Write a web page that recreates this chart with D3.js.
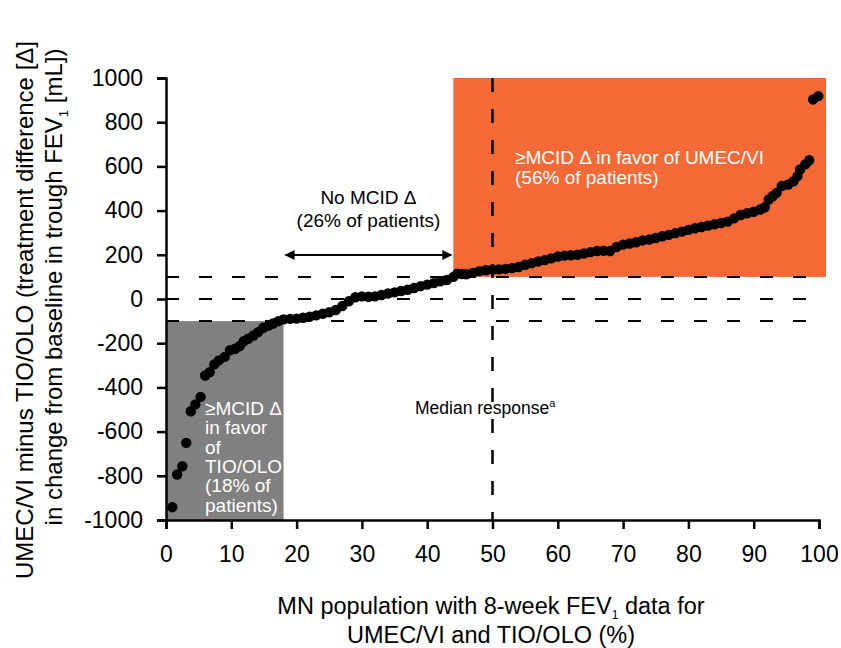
<!DOCTYPE html>
<html>
<head>
<meta charset="utf-8">
<script src="https://cdn.jsdelivr.net/npm/d3@7"></script>
<style>
  body { margin: 0; background: #fff; }
  svg text { font-family: "Liberation Sans", Arial, sans-serif; }
</style>
</head>
<body>
<svg id="chart" width="841" height="648"></svg>
<script>
// percentile of MN population (x) and treatment difference in mL (y)
const pct = [0.97, 1.7, 2.5, 3.1, 3.8, 4.5, 5.3, 6.0, 6.7, 7.4, 8.1, 9.0, 9.8, 10.6, 11.3, 11.9,
  12.6, 13.4, 14.1, 14.9, 15.7, 16.4, 17.2, 18, 19, 20, 21, 22, 23, 24, 25, 26, 27, 28, 29, 30,
  31, 32, 33, 34, 35, 36, 37, 38, 39, 40, 41, 42, 43, 44, 44.6, 45.3, 46, 47, 48, 49, 50, 51,
  52, 53, 54, 55, 56, 57, 58, 59, 60, 61, 62, 63, 64, 65, 66, 67, 68, 69, 70, 71, 72, 73, 74,
  75, 76, 77, 78, 79, 80, 81, 82, 83, 84, 85, 86, 87, 88, 89, 90, 91, 91.7, 92.3, 92.9, 93.5,
  94.3, 95.3, 96.1, 96.7, 97.1, 97.9, 98.5, 99.1, 99.9];
const diff = [-942, -794, -757, -651, -508, -477, -443, -346, -331, -296, -278, -262, -232, -225,
  -213, -191, -180, -165, -150, -130, -120, -111, -100, -92, -90, -89, -85, -80, -74, -67, -60,
  -50, -32, -10, 8, 12, 10, 12, 18, 25, 30, 36, 42, 50, 58, 65, 72, 80, 86, 100, 115, 113, 112,
  118, 126, 130, 133, 134, 136, 140, 145, 155, 162, 170, 176, 184, 192, 196, 198, 200, 206, 212,
  217, 218, 217, 235, 246, 251, 257, 265, 269, 276, 284, 290, 298, 305, 313, 320, 326, 332, 338,
  344, 350, 365, 380, 388, 395, 405, 415, 450, 465, 480, 511, 518, 533, 556, 586, 609, 628, 903, 918];

const xTicks = [0, 10, 20, 30, 40, 50, 60, 70, 80, 90, 100];
const yTicks = [-1000, -800, -600, -400, -200, 0, 200, 400, 600, 800, 1000];
const mcid = [100, 0, -100];   // dashed reference lines
const median = 50;
const favorTio = [0, 18];      // % range, diff <= -100
const noMcid = [18, 44];
const favorUmec = [44, 100];   // % range, diff >= 100

const svg = d3.select('#chart');
const x = d3.scaleLinear().domain([0, 100]).range([166, 819]);
const y = d3.scaleLinear().domain([-1000, 1000]).range([520, 78]);

// shaded zones
svg.append('rect')
  .attr('x', x(favorTio[0])).attr('y', y(-100))
  .attr('width', x(favorTio[1]) - x(favorTio[0])).attr('height', y(-1000) - y(-100))
  .attr('fill', '#808080');
svg.append('rect')
  .attr('x', x(favorUmec[0])).attr('y', y(1000))
  .attr('width', x(favorUmec[1]) - x(favorUmec[0]) + 7).attr('height', y(100) - y(1000))
  .attr('fill', '#f36a36');

// dashed lines
svg.selectAll('.hdash').data(mcid).enter().append('line')
  .attr('class', 'hdash')
  .attr('x1', x(0)).attr('x2', x(100) + 7)
  .attr('y1', d => y(d)).attr('y2', d => y(d))
  .attr('stroke', '#000').attr('stroke-width', 2)
  .attr('stroke-dasharray', '13,20');
svg.append('line')
  .attr('x1', x(median)).attr('x2', x(median))
  .attr('y1', y(1000)).attr('y2', y(-1000))
  .attr('stroke', '#000').attr('stroke-width', 2.5)
  .attr('stroke-dasharray', '14,17');

// axes
const xAxis = svg.append('g').attr('transform', 'translate(0,' + y(-1000) + ')')
  .call(d3.axisBottom(x).tickValues(xTicks).tickSize(9).tickPadding(17).tickFormat(d => String(d)));
const yAxis = svg.append('g').attr('transform', 'translate(' + x(0) + ',0)')
  .call(d3.axisLeft(y).tickValues(yTicks).tickSize(9).tickPadding(14).tickFormat(d => String(d)));
[xAxis, yAxis].forEach(g => {
  g.select('.domain').attr('stroke-width', 2.5);
  g.selectAll('.tick line').attr('stroke-width', 2.5);
  g.selectAll('.tick text').attr('font-size', 23).attr('fill', '#000')
    .attr('font-family', '"Liberation Sans", Arial, sans-serif');
});

// points
svg.selectAll('.pt').data(pct).enter().append('circle')
  .attr('class', 'pt')
  .attr('cx', d => x(d))
  .attr('cy', (d, i) => y(diff[i]))
  .attr('r', 5.2)
  .attr('fill', '#000');

// arrow for the no-MCID zone
svg.append('defs').append('marker')
  .attr('id', 'ah').attr('viewBox', '0 0 10 10').attr('refX', 9).attr('refY', 5)
  .attr('markerWidth', 16).attr('markerHeight', 10).attr('orient', 'auto-start-reverse')
  .attr('markerUnits', 'userSpaceOnUse')
  .append('path').attr('d', 'M0,0L10,5L0,10z').attr('fill', '#000');
svg.append('line')
  .attr('x1', x(noMcid[0]) + 2).attr('x2', x(noMcid[1]) - 2)
  .attr('y1', 255).attr('y2', 255)
  .attr('stroke', '#000').attr('stroke-width', 2)
  .attr('marker-start', 'url(#ah)').attr('marker-end', 'url(#ah)');

const label = (tx, ty, lines, color, anchor, size, lh) => {
  const t = svg.append('text').attr('x', tx).attr('y', ty)
    .attr('fill', color).attr('font-size', size).attr('text-anchor', anchor);
  lines.forEach((l, i) => t.append('tspan').attr('x', tx).attr('dy', i ? lh : 0).text(l));
  return t;
};
label((x(noMcid[0]) + x(noMcid[1])) / 2, 204, ['No MCID \u0394', '(26% of patients)'], '#000', 'middle', 19, 23);
label(515, 164, ['\u2265MCID \u0394 in favor of UMEC/VI', '(56% of patients)'], '#fff', 'start', 19, 20);
label(205, 415, ['\u2265MCID \u0394', 'in favor', 'of', 'TIO/OLO', '(18% of', 'patients)'], '#fff', 'start', 19, 19.3);

const med = svg.append('text').attr('x', 415).attr('y', 414).attr('font-size', 17.5).attr('fill', '#000');
med.append('tspan').text('Median response');
med.append('tspan').attr('font-size', 11).attr('dy', -7).text('a');

// axis titles
const xt = svg.append('text').attr('x', 491).attr('y', 614).attr('text-anchor', 'middle').attr('font-size', 23.5);
xt.append('tspan').text('MN population with 8-week FEV');
xt.append('tspan').attr('font-size', 12).attr('dy', 5).text('1');
xt.append('tspan').attr('dy', -5).text(' data for');
svg.append('text').attr('x', 491).attr('y', 643).attr('text-anchor', 'middle').attr('font-size', 23.5)
  .text('UMEC/VI and TIO/OLO (%)');

const yt = svg.append('g').attr('transform', 'translate(33,0) rotate(-90)');
yt.append('text').attr('x', -310).attr('text-anchor', 'middle').attr('font-size', 24)
  .text('UMEC/VI minus TIO/OLO (treatment difference [\u0394]');
const yt2 = yt.append('text').attr('x', -287).attr('y', 29).attr('text-anchor', 'middle').attr('font-size', 24);
yt2.append('tspan').text('in change from baseline in trough FEV');
yt2.append('tspan').attr('font-size', 13).attr('dy', 6).text('1');
yt2.append('tspan').attr('dy', -6).text(' [mL])');
</script>
</body>
</html>
